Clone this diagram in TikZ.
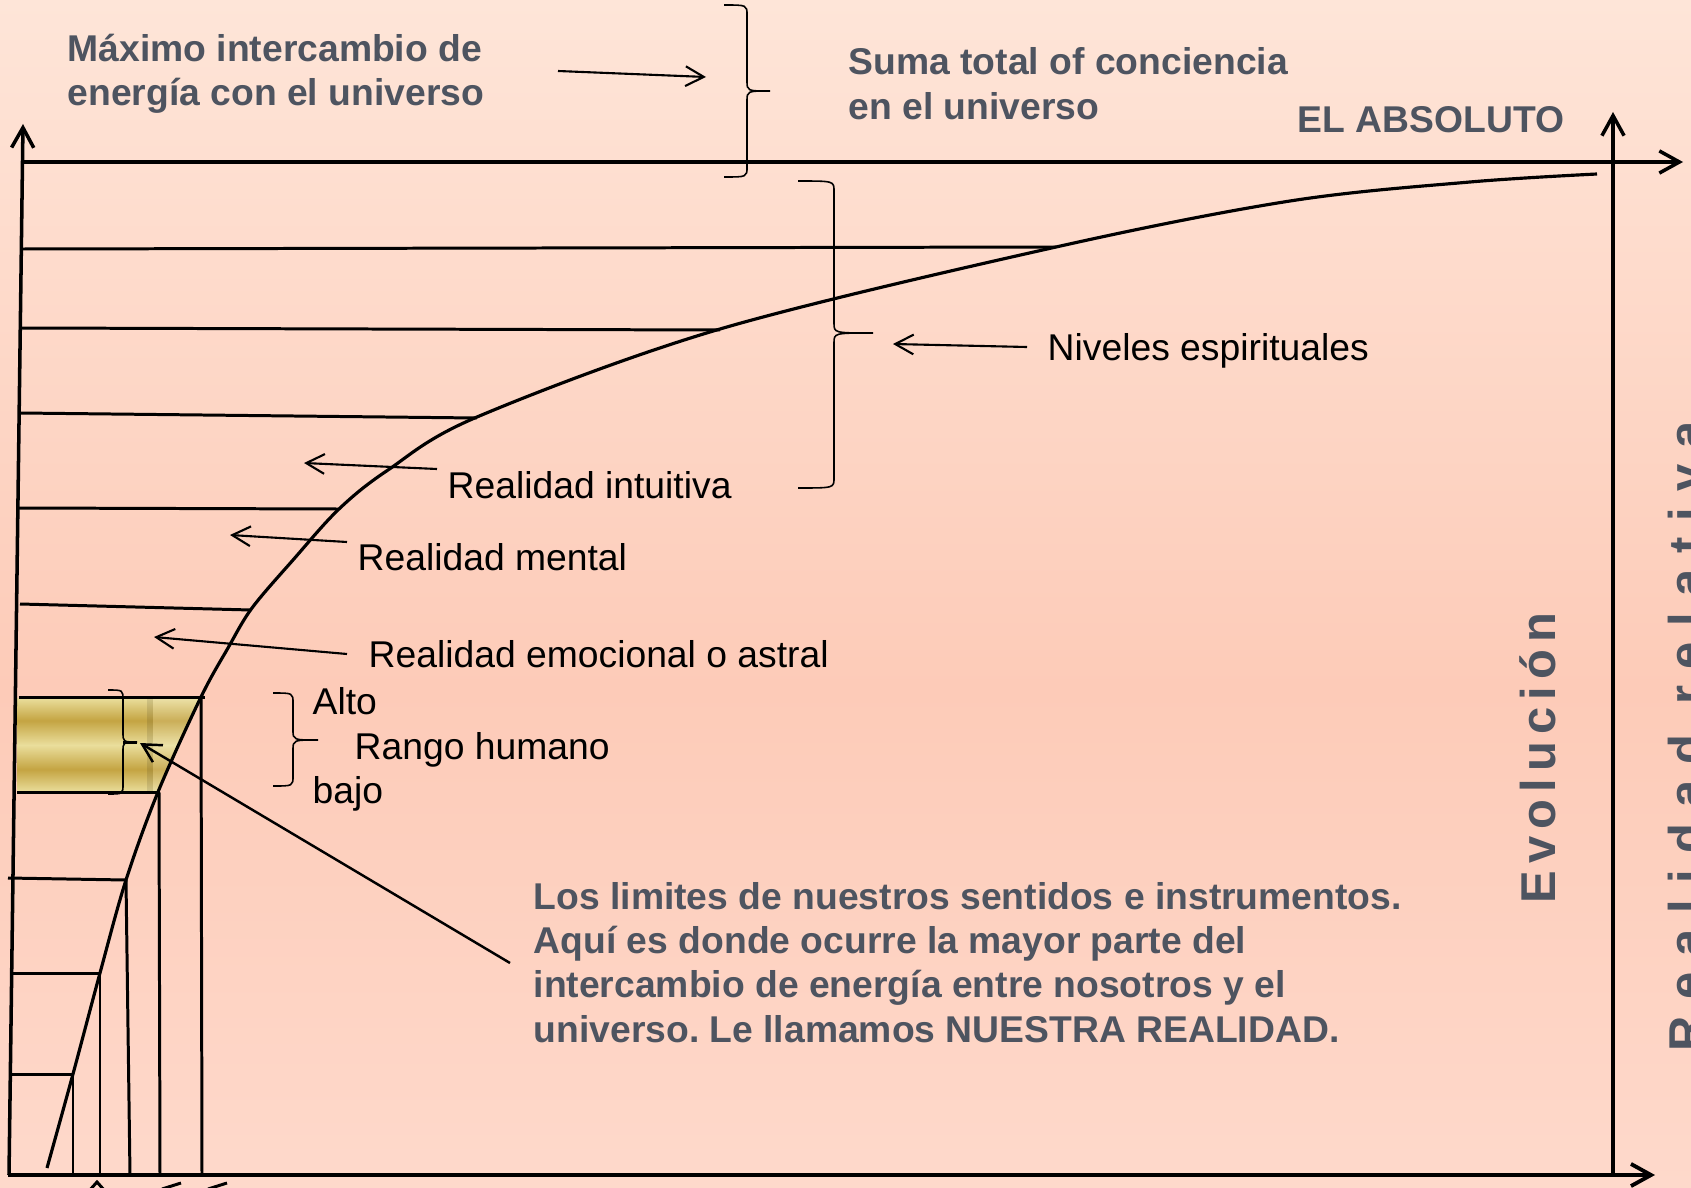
\documentclass[tikz,border=0pt]{standalone}
\usepackage{fontspec}
\setmainfont{Liberation Sans}
\newfontfamily\evofont[LetterSpace=14.5]{Liberation Sans}
\newfontfamily\relfont[LetterSpace=33]{Liberation Sans}
\usetikzlibrary{arrows.meta}
\definecolor{txtgray}{RGB}{78,84,96}
\definecolor{bgtop}{RGB}{254,229,216}
\definecolor{bgmid}{RGB}{253,203,184}
\definecolor{bgbot}{RGB}{254,217,203}
\definecolor{goldL}{RGB}{234,222,156}
\definecolor{goldD}{RGB}{196,164,66}
\pgfdeclareverticalshading{bgshade}{100bp}{color(0bp)=(bgbot); color(25bp)=(bgbot); color(46bp)=(bgmid); color(75bp)=(bgtop); color(100bp)=(bgtop)}
\pgfdeclareverticalshading{goldshade}{100bp}{color(0bp)=(goldL); color(25bp)=(goldL); color(37bp)=(goldD); color(50bp)=(goldL); color(63bp)=(goldD); color(75bp)=(goldL); color(100bp)=(goldL)}
\newcommand{\mybrace}[6]{%
  \draw[bracestyle] (#1,#4) .. controls (#2,#4) .. (#2,{#4+10}) -- (#2,{#5-10})
    .. controls (#2,#5) .. (#3,#5) .. controls (#2,#5) .. (#2,{#5+10})
    -- (#2,{#6-10}) .. controls (#2,#6) .. (#1,#6);}
\begin{document}
\frenchspacing
\begin{tikzpicture}[x=0.01cm, y=-0.01cm,
  axisline/.style={line width=1pt, -{Straight Barb[length=5.7pt,width=6.3pt]}},
  levelline/.style={line width=0.85pt},
  thinline/.style={line width=0.85pt},
  bracestyle/.style={line width=0.45pt},
  arr/.style={line width=0.6pt, -{Straight Barb[length=5.2pt,width=5.6pt]}},
  lbl/.style={font=\fontsize{10.6}{12.8}\selectfont, inner sep=0pt, anchor=base west},
  glbl/.style={font=\fontsize{10.6}{12.8}\selectfont\bfseries, text=txtgray, inner sep=0pt, anchor=base west}]
\useasboundingbox (0,0) rectangle (1691,1188);
\clip (0,0) rectangle (1691,1188);
\shade[shading=bgshade] (0,0) rectangle (1691,1188);

% gold band (human range)
\shade[shading=goldshade] (17,698) -- (201,698) -- (157,792) -- (17,792) -- cycle;
\fill[black, opacity=0.10] (147,698) rectangle (153,792);
\fill[white, opacity=0.12] (153,698) -- (201,698) -- (157,792) -- (153,792) -- cycle;

% axes
\coordinate (lb) at (9,1175);
\coordinate (lt) at (23,124);
\coordinate (tl) at (21,162);
\coordinate (tr) at (1683,162);
\coordinate (bl) at (8,1175);
\coordinate (br) at (1655,1175);
\coordinate (rb) at (1613,1175);
\coordinate (rt) at (1613,112);
\draw[axisline] (lb) -- (lt);
\draw[axisline] (tl) -- (tr);
\draw[axisline, line width=1.1pt] (bl) -- (br);
\draw[axisline] (rb) -- (rt);

% evolution curve
\draw[line width=0.9pt] plot[smooth, tension=0.55] coordinates {
 (47,1168) (73,1074) (100,973) (126,880) (158,792) (201,697) (228,648) (252,608)
 (293,560) (339,509) (388,470) (477,417) (720,329) (1056,247)
 (1290,201) (1470,182) (1597,174)};

% level lines
\draw[levelline] (22,249) -- (1056,247);
\draw[levelline] (21,328) -- (720,330);
\draw[levelline] (20,413) -- (477,418);
\draw[levelline] (19,508) -- (339,509);
\draw[levelline] (20,604) -- (251,610);
\draw[levelline] (19,697) -- (205,697);
\draw[thinline] (17,792) -- (157,792);
\draw[levelline] (8,878) -- (126,880);
\draw[levelline] (12,973) -- (100,973);
\draw[levelline] (11,1074) -- (74,1074);

% vertical lines
\draw[thinline] (73,1074) -- (73,1175);
\draw[thinline] (100,973) -- (100,1175);
\draw[thinline] (126,880) -- (130,1175);
\draw[thinline] (159,792) -- (160,1175);
\draw[thinline] (201,697) -- (202,1175);

% fragments at bottom edge
\draw[levelline] (89,1191) -- (97,1182) -- (105,1191);
\draw[levelline] (162,1189) -- (181,1183);
\draw[levelline] (208,1189) -- (227,1183);

% braces
\mybrace{724}{747}{770}{5}{91}{177}
\mybrace{798}{834}{873}{181}{333}{488}
\mybrace{273}{293}{318}{693}{740}{786}
\draw[bracestyle] (108,690) .. controls (123,690) .. (123,700) -- (123,732)
    .. controls (123,742) .. (137,742) .. controls (123,742) .. (123,752)
    -- (123,784) .. controls (123,794) .. (108,794);
\draw[line width=0.85pt] (123,742) -- (137,742);

% labels
\node[glbl] (max1) at (67,62) {Máximo intercambio de};
\node[glbl] (max2) at (67,106) {energía con el universo};
\node[glbl] (suma1) at (848,75) {Suma total of conciencia};
\node[glbl] (suma2) at (848,120) {en el universo};
\node[glbl] (abs) at (1297,133) {EL ABSOLUTO};
\node[lbl] (niv) at (1047,360) {Niveles espirituales};
\node[lbl] (intu) at (447,498) {Realidad intuitiva};
\node[lbl] (ment) at (357,570) {Realidad mental};
\node[lbl] (emo) at (368,667) {Realidad emocional o astral};
\node[lbl] (alto) at (312,714) {Alto};
\node[lbl] (rango) at (354,759) {Rango humano};
\node[lbl] (bajo) at (312,803) {bajo};
\node[glbl] (lim1) at (533,909) {Los limites de nuestros sentidos e instrumentos.};
\node[glbl] (lim2) at (533,953) {Aquí es donde ocurre la mayor parte del};
\node[glbl] (lim3) at (533,997) {intercambio de energía entre nosotros y el};
\node[glbl] (lim4) at (533,1042) {universo. Le llamamos NUESTRA REALIDAD.};
\node[rotate=90, anchor=base west, inner sep=0pt, text=txtgray,
  font=\evofont\fontsize{13.9}{16}\selectfont\bfseries] (evo) at (1555,904) {Evolución};
\node[rotate=90, anchor=base west, inner sep=0pt, text=txtgray,
  font=\relfont\fontsize{13.9}{16}\selectfont\bfseries] (rel) at (1703,1052) {Realidad relativa};

% arrows
\coordinate (maxA) at (558,71);   \coordinate (maxB) at (706,77);
\coordinate (nivA) at (1027,347); \coordinate (nivB) at (893,344);
\coordinate (intA) at (437,469);  \coordinate (intB) at (304,463);
\coordinate (menA) at (347,542);  \coordinate (menB) at (230,535);
\coordinate (emoA) at (347,654);  \coordinate (emoB) at (154,637);
\coordinate (limA) at (510,963);  \coordinate (limB) at (140,743);
\draw[arr] (maxA) -- (maxB);
\draw[arr] (nivA) -- (nivB);
\draw[arr] (intA) -- (intB);
\draw[arr] (menA) -- (menB);
\draw[arr] (emoA) -- (emoB);
\draw[arr, line width=0.7pt] (limA) -- (limB);
\end{tikzpicture}
\end{document}
